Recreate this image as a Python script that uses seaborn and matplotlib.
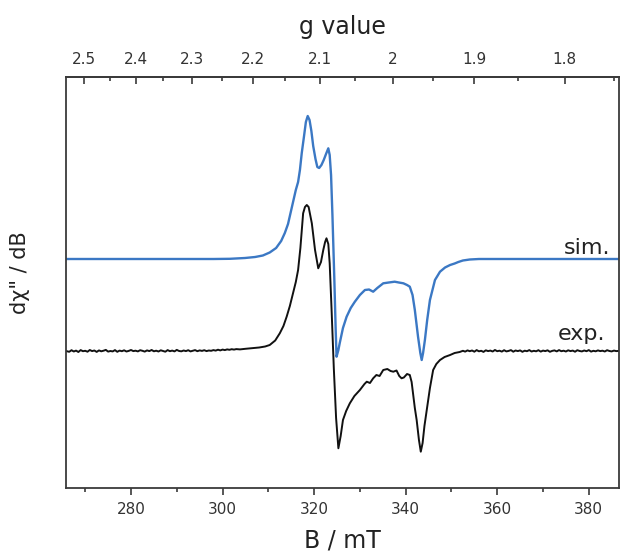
import numpy as np
import pandas as pd
import matplotlib
matplotlib.use("Agg")
import matplotlib.pyplot as plt
import seaborn as sns
from matplotlib.ticker import FixedLocator, FixedFormatter

# ---------------- data ----------------
# simulated spectrum (B in mT, intensity in arbitrary units)
sim_B = [265.8, 298.0, 301.6, 304.9, 307.1, 308.8, 310.3, 311.7, 312.8, 313.6,
         314.3, 314.9, 315.6, 316.0, 316.5, 316.9, 317.3, 317.8, 318.2, 318.6,
         319.0, 319.4, 319.8, 320.3, 320.7, 321.1, 321.6, 322.1, 322.6, 323.1,
         323.4, 323.7, 324.0, 324.4, 324.7, 324.9, 325.3, 325.6, 326.3, 327.1,
         328.0, 328.9, 330.0, 331.1, 332.0, 332.9, 333.8, 335.1, 336.3, 337.6,
         338.5, 339.5, 340.3, 340.9, 341.5, 342.0, 342.7, 343.2, 343.5, 343.8,
         344.2, 344.7, 345.3, 346.4, 347.5, 348.6, 349.7, 350.7, 351.5, 352.5,
         354.0, 356.0, 386.6]
sim_I = [229.0, 229.0, 229.2, 230.0, 231.0, 232.5, 235.5, 240.0, 247.0, 255.0,
         264.0, 276.0, 290.0, 298.0, 306.0, 318.0, 335.0, 352.0, 366.0, 372.0,
         368.0, 357.0, 342.0, 329.0, 321.0, 320.0, 323.0, 328.0, 334.0, 339.7,
         333.0, 313.0, 273.0, 211.3, 160.0, 131.3, 138.0, 145.0, 160.0, 171.3,
         180.0, 186.3, 193.0, 198.0, 198.5, 196.3, 200.0, 204.7, 205.5, 206.3,
         205.5, 204.7, 203.0, 201.3, 193.0, 178.0, 151.3, 135.0, 128.0, 135.0,
         148.0, 168.0, 188.0, 208.0, 216.3, 220.5, 223.0, 224.5, 226.0, 227.5,
         228.5, 229.0, 229.0]

# experimental spectrum
exp_B = [265.8, 266.5, 267.0, 267.5, 268.0, 268.5, 269.0, 269.5, 270.0, 270.5,
         271.0, 271.5, 272.0, 272.5, 273.0, 273.5, 274.0, 274.5, 275.0, 275.5,
         276.0, 276.5, 277.0, 277.5, 278.0, 278.5, 279.0, 279.5, 280.0, 280.5,
         281.0, 281.5, 282.0, 282.5, 283.0, 283.5, 284.0, 284.5, 285.0, 285.5,
         286.0, 286.5, 287.0, 287.5, 288.0, 288.5, 289.0, 289.5, 290.0, 290.5,
         291.0, 291.5, 292.0, 292.5, 293.0, 293.5, 294.0, 294.5, 295.0, 295.5,
         296.0, 296.5, 297.0, 297.5, 298.0, 298.5, 299.0, 299.5, 300.0, 300.5,
         301.0, 301.5, 302.0, 302.5, 303.0, 303.8, 305.0, 306.5, 308.0, 309.3,
         310.3, 311.5, 312.5, 313.3, 314.0, 314.7, 315.4, 316.0, 316.5, 317.0,
         317.6, 318.0, 318.4, 318.8, 319.5, 320.2, 320.9, 321.5, 322.0, 322.4,
         322.7, 323.1, 323.4, 323.8, 324.3, 324.8, 325.3, 325.8, 326.3, 327.0,
         327.8, 328.8, 330.0, 331.0, 331.5, 332.2, 332.9, 333.6, 334.3, 335.1,
         336.0, 336.7, 337.3, 338.0, 338.6, 339.1, 339.6, 340.3, 340.9, 341.3,
         341.6, 342.0, 342.4, 342.9, 343.3, 343.7, 344.1, 344.6, 345.3, 346.0,
         346.7, 347.5, 348.5, 349.7, 350.7, 351.8, 352.5, 353.0, 353.5, 354.0,
         354.5, 355.0, 355.5, 356.0, 356.5, 357.0, 357.5, 358.0, 358.5, 359.0,
         359.5, 360.0, 360.5, 361.0, 361.5, 362.0, 362.5, 363.0, 363.5, 364.0,
         364.5, 365.0, 365.5, 366.0, 366.5, 367.0, 367.5, 368.0, 368.5, 369.0,
         369.5, 370.0, 370.5, 371.0, 371.5, 372.0, 372.5, 373.0, 373.5, 374.0,
         374.5, 375.0, 375.5, 376.0, 376.5, 377.0, 377.5, 378.0, 378.5, 379.0,
         379.5, 380.0, 380.5, 381.0, 381.5, 382.0, 382.5, 383.0, 383.5, 384.0,
         384.5, 385.0, 385.5, 386.0, 386.6]
exp_I = [137.0, 136.2, 137.8, 136.5, 137.4, 136.0, 137.9, 136.8, 137.2, 136.3,
         138.0, 136.9, 137.5, 136.1, 137.6, 136.7, 137.3, 138.1, 136.4, 137.0,
         136.6, 137.9, 136.2, 137.4, 136.8, 137.7, 136.5, 137.1, 138.0, 136.9,
         137.3, 136.6, 137.8, 137.2, 136.4, 137.6, 136.9, 138.0, 136.7, 137.3,
         136.5, 137.7, 137.0, 136.3, 137.9, 136.8, 137.4, 136.6, 138.1, 137.0,
         136.7, 137.5, 136.9, 137.8, 136.6, 137.3, 137.9, 136.8, 137.6, 137.1,
         137.8, 136.9, 137.5, 137.2, 137.9, 137.4, 138.3, 137.6, 138.4, 137.9,
         138.6, 138.2, 138.8, 138.4, 138.9, 138.6, 139.2, 139.8, 140.5, 141.5,
         143.0, 147.5, 154.7, 162.0, 171.3, 182.0, 194.7, 206.0, 218.0, 240.0,
         274.7, 281.0, 283.0, 281.0, 264.7, 238.0, 219.7, 226.0, 238.0, 246.0,
         249.7, 244.0, 224.7, 180.0, 120.0, 70.0, 39.7, 52.0, 68.0, 77.0,
         84.7, 92.0, 98.0, 104.0, 106.3, 105.0, 109.7, 113.0, 112.0, 118.0,
         119.0, 117.0, 116.3, 117.5, 112.0, 109.7, 110.5, 114.0, 113.0, 106.0,
         94.7, 80.0, 68.0, 48.0, 36.3, 45.0, 62.0, 78.0, 100.0, 118.0,
         124.0, 128.0, 131.0, 133.0, 135.0, 136.0, 137.2, 136.4, 137.6, 136.8,
         137.5, 136.3, 137.9, 136.7, 137.2, 136.1, 137.7, 136.9, 137.4, 136.5,
         138.0, 136.8, 137.3, 136.4, 137.8, 136.6, 137.1, 137.9, 136.3, 137.5,
         136.9, 137.6, 136.2, 137.3, 136.8, 137.9, 136.5, 137.2, 136.7, 137.8,
         136.4, 137.4, 136.9, 137.7, 136.2, 137.1, 137.6, 136.6, 137.9, 136.8,
         137.3, 136.5, 137.7, 136.9, 137.4, 136.3, 137.8, 137.0, 136.6, 137.5,
         136.8, 137.9, 136.4, 137.2, 136.7, 137.6, 136.9, 137.3, 136.5, 137.8,
         137.0, 136.6, 137.4, 136.9, 137.1]

bottom_major = [280, 300, 320, 340, 360, 380]
bottom_minor = [270, 290, 310, 330, 350, 370]
g_major = [2.5, 2.4, 2.3, 2.2, 2.1, 2.0, 1.9, 1.8]
g_major_labels = ["2.5", "2.4", "2.3", "2.2", "2.1", "2", "1.9", "1.8"]
g_minor = [2.45, 2.35, 2.25, 2.15, 2.05, 1.95, 1.85, 1.75]
hnu_over_muB = 674.5  # B[mT] * g

# ---------------- plotting ----------------
sns.set_style("white")
plt.rcParams['font.family'] = ['DejaVu Sans']

fig = plt.figure(figsize=(6.24, 5.54), dpi=100)
ax = fig.add_axes([66/624, 1-488/554, (619-66)/624, (488-77)/554])

df_sim = pd.DataFrame({"B": sim_B, "I": sim_I})
df_exp = pd.DataFrame({"B": exp_B, "I": exp_I})
sns.lineplot(data=df_exp, x="B", y="I", ax=ax, color="#111111", lw=1.4,
             estimator=None, sort=False)
sns.lineplot(data=df_sim, x="B", y="I", ax=ax, color="#3b78c4", lw=1.7,
             estimator=None, sort=False)

ax.set_xlim(265.8, 386.6)
ax.set_ylim(0, 411)

for s in ax.spines.values():
    s.set_visible(True)
    s.set_color("#3a3a3a")
    s.set_linewidth(1.3)

ax.set_yticks([])
ax.xaxis.set_major_locator(FixedLocator(bottom_major))
ax.xaxis.set_minor_locator(FixedLocator(bottom_minor))
ax.tick_params(axis="x", which="both", bottom=True, top=False)
ax.tick_params(axis="x", which="major", direction="out", length=5, width=1.2,
               color="#3a3a3a", labelsize=11, pad=5, labelcolor="#333333")
ax.tick_params(axis="x", which="minor", direction="out", length=3, width=1.2,
               color="#3a3a3a")
ax.set_xlabel("B / mT", fontsize=17, labelpad=8, color="#222222")
ax.set_ylabel('d\u03c7" / dB', fontsize=15, color="#222222")
ax.yaxis.set_label_coords(-0.065, 0.525)

secax = ax.secondary_xaxis("top", functions=(lambda b: hnu_over_muB / np.asarray(b, dtype=float),
                                             lambda g: hnu_over_muB / np.asarray(g, dtype=float)))
secax.xaxis.set_major_locator(FixedLocator(g_major))
secax.xaxis.set_major_formatter(FixedFormatter(g_major_labels))
secax.xaxis.set_minor_locator(FixedLocator(g_minor))
secax.tick_params(axis="x", which="both", top=True)
secax.tick_params(axis="x", which="major", direction="in", length=5, width=1.2,
                  color="#3a3a3a", labelsize=11, pad=7, labelcolor="#333333")
secax.tick_params(axis="x", which="minor", direction="in", length=3, width=1.2,
                  color="#3a3a3a")
secax.set_xlabel("g value", fontsize=17, labelpad=13, color="#222222")
secax.spines["top"].set_color("#3a3a3a")
secax.spines["top"].set_linewidth(1.3)

ax.text(384.6, 234, "sim.", ha="right", va="baseline", fontsize=16, color="#222222")
ax.text(383.6, 148, "exp.", ha="right", va="baseline", fontsize=16, color="#222222")

fig.savefig("out.png", dpi=100)
